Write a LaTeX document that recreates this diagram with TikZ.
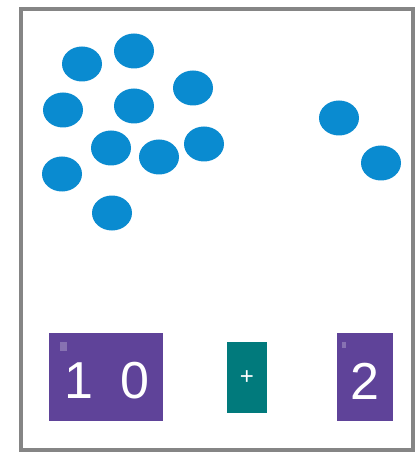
\documentclass[tikz,border=0pt]{standalone}
\usepackage{fontspec}
\setmainfont{Liberation Sans}
\usetikzlibrary{shapes.geometric}
\definecolor{dotblue}{HTML}{0A8BD0}
\definecolor{cardpurple}{HTML}{5F4399}
\definecolor{cardteal}{HTML}{017A7C}
\definecolor{framegray}{HTML}{858585}
\tikzset{
  dot/.style={fill=dotblue, draw=none, ellipse, minimum width=40pt, minimum height=35pt, inner sep=0pt},
  card/.style={draw=none, inner sep=0pt, text=white},
  bigdigit/.style={card, font=\fontsize{52}{52}\selectfont},
  tinymark/.style={fill=white, fill opacity=0.25, draw=none},
}
\begin{document}
\begin{tikzpicture}[x=1pt,y=-1pt]
\useasboundingbox (0,0) rectangle (419,454);
\fill[white] (0,0) rectangle (419,454);
\draw[framegray, line width=4.5pt] (21,9) rectangle (413,450);
% dots
\node[dot] (d1) at (82,64) {};
\node[dot] (d2) at (134,51) {};
\node[dot] (d3) at (193,88) {};
\node[dot] (d4) at (63,110) {};
\node[dot] (d5) at (134,106) {};
\node[dot] (d6) at (111,148) {};
\node[dot] (d7) at (159,157) {};
\node[dot] (d8) at (204,144) {};
\node[dot] (d9) at (62,174) {};
\node[dot] (d10) at (112,213) {};
\node[dot] (d11) at (339,118) {};
\node[dot] (d12) at (381,163) {};
% cards
\fill[cardpurple] (49,333) rectangle (163,421);
\fill[tinymark] (60,342) rectangle (67,351);
\node[bigdigit] (one) at (79,381) {1};
\node[bigdigit] (zero) at (135,381) {0};
\fill[cardteal] (227,342) rectangle (267,413);
\node[card, font=\fontsize{24}{24}\selectfont] (plus) at (247,378) {+};
\fill[cardpurple] (337,333) rectangle (393,421);
\fill[tinymark] (342,342) rectangle (346,348);
\node[bigdigit] (two) at (365,381) {2};
\end{tikzpicture}
\end{document}
